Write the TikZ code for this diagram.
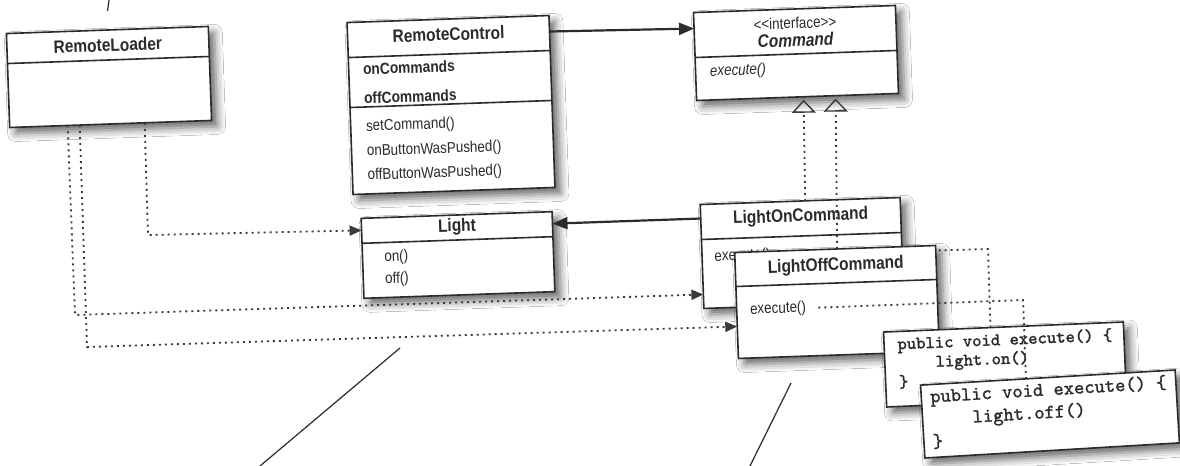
\documentclass[tikz,border=0pt]{standalone}
\usepackage{fontspec}
\newfontfamily\umlsans{Liberation Sans}[FakeStretch=0.86]
\newfontfamily\codefont{Latin Modern Mono}[FakeBold=1.3]
\usetikzlibrary{arrows.meta, shadows.blur}

\definecolor{inkgray}{HTML}{2B2B2B}
\definecolor{dotgray}{HTML}{3A3A3A}

\tikzset{
  classbox/.style={draw=inkgray, line width=0.8pt, fill=white, inner sep=0pt,
    blur shadow={shadow xshift=3pt, shadow yshift=-3pt, shadow blur radius=4pt, shadow opacity=60}},
  classline/.style={draw=inkgray, line width=0.8pt},
  clsname/.style={font=\umlsans\bfseries\fontsize{9}{10}\selectfont, text=inkgray},
  attrtext/.style={anchor=west, inner sep=1pt, font=\umlsans\bfseries\fontsize{8}{9}\selectfont, text=inkgray},
  methtext/.style={anchor=west, inner sep=1pt, font=\umlsans\fontsize{7.8}{9}\selectfont, text=inkgray},
  codetext/.style={anchor=west, inner sep=1pt, align=left, text=inkgray},
  dep/.style={draw=dotgray, line width=0.9pt, dash pattern=on 1pt off 2pt, -{Triangle[length=6pt,width=5pt]}},
  execlink/.style={draw=dotgray, line width=0.9pt, dash pattern=on 1pt off 2pt, shorten <=5pt},
  realize/.style={draw=dotgray, line width=0.9pt, dash pattern=on 1pt off 2pt,
    -{Triangle[open, length=6.5pt, width=12pt, line width=0.7pt]}},
  assoc/.style={draw=inkgray, line width=1.1pt, -{Triangle[length=7.5pt,width=6pt]}},
  note/.style={draw=inkgray, line width=0.6pt},
}

\begin{document}
\begin{tikzpicture}[x=0.5pt, y=-0.5pt]
  \useasboundingbox[fill=white] (0,0) rectangle (1180,466);

  % leader lines of the cut-off notes
  \draw[note] (109,0) -- (107.5,11);
  \draw[note] (400,348) -- (260,466);
  \draw[note] (791,383) -- (750,466);

  % RemoteLoader
  \begin{scope}[shift={(109,77)}, rotate=2, transform shape]
    \node[classbox, minimum width=101pt, minimum height=47pt] (loader) at (0,0) {};
    \draw[classline] (-101,-17) -- (101,-17);
    \node[clsname] (loadername) at (0,-32) {RemoteLoader};
    \coordinate (ld-a) at (-43,47);
    \coordinate (ld-b) at (-31,47);
    \coordinate (ld-c) at (34,47);
  \end{scope}

  % RemoteControl
  \begin{scope}[shift={(451,105)}, rotate=2, transform shape]
    \node[classbox, minimum width=101pt, minimum height=86pt] (remote) at (0,0) {};
    \draw[classline] (-101,-51) -- (101,-51);
    \draw[classline] (-101,-1) -- (101,-1);
    \node[clsname] (remotename) at (0,-71) {RemoteControl};
    \node[attrtext] (oncmds) at (-89,-39) {onCommands};
    \node[attrtext] (offcmds) at (-89,-10) {offCommands};
    \node[methtext] (setcmd) at (-88,19) {setCommand()};
    \node[methtext] (onpush) at (-88,44) {onButtonWasPushed()};
    \node[methtext] (offpush) at (-88,68) {offButtonWasPushed()};
    \coordinate (rc-out) at (101,-70);
  \end{scope}

  % Command interface
  \begin{scope}[shift={(796,53)}, rotate=2, transform shape]
    \node[classbox, minimum width=101pt, minimum height=44pt] (command) at (0,0) {};
    \draw[classline] (-101,1) -- (101,1);
    \node[methtext, anchor=center] (stereo) at (0,-30) {<\kern0pt<interface>\kern0pt>};
    \node[clsname, font=\umlsans\bfseries\itshape\fontsize{9}{10}\selectfont] (cmdname) at (0,-13) {Command};
    \node[methtext, font=\umlsans\itshape\fontsize{7.8}{9}\selectfont] (cmdexec) at (-89,16) {execute()};
    \coordinate (cmd-in) at (-101,-28);
    \coordinate (cmd-tipa) at (6,47);
    \coordinate (cmd-tipb) at (38,47);
  \end{scope}

  % Light
  \begin{scope}[shift={(458,255)}, rotate=2, transform shape]
    \node[classbox, minimum width=95.5pt, minimum height=40pt] (light) at (0,0) {};
    \draw[classline] (-95.5,-15) -- (95.5,-15);
    \node[clsname] (lightname) at (0,-28) {Light};
    \node[methtext] (lighton) at (-76,0) {on()};
    \node[methtext] (lightoff) at (-76,22) {off()};
    \coordinate (lt-west) at (-95.5,-28);
    \coordinate (lt-east) at (95.5,-28);
  \end{scope}

  % LightOnCommand
  \begin{scope}[shift={(802,253)}, rotate=2, transform shape]
    \node[classbox, minimum width=100pt, minimum height=52pt] (lon) at (0,0) {};
    \draw[classline] (-100,-17) -- (100,-17);
    \node[clsname] (lonname) at (0,-36) {LightOnCommand};
    \node[methtext] (lonexec) at (-90,1) {execute()};
    \coordinate (lon-westa) at (-100,38);
    \coordinate (lon-westt) at (-100,-38);
    \coordinate (lon-top) at (5,-52);
  \end{scope}

  \coordinate (on-corner) at (988,249);
  \coordinate (off-corner) at (1023,300);
  \coordinate (c1-in) at (990.5,328);
  \coordinate (c2-in) at (1026,379);
  \coordinate (ld-cornera) at (75,315);
  \coordinate (ld-cornerb) at (87,347);
  \coordinate (ld-cornerc) at (148,235);

  \draw[execlink] (lonexec.east) -- (on-corner) -- (c1-in);
  \draw[realize] (lon-top) -- (cmd-tipa);

  % LightOffCommand
  \begin{scope}[shift={(837,302)}, rotate=2, transform shape]
    \node[classbox, minimum width=100.5pt, minimum height=53pt] (loff) at (0,0) {};
    \draw[classline] (-100.5,-19) -- (100.5,-19);
    \node[clsname] (loffname) at (0,-36) {LightOffCommand};
    \node[methtext] (loffexec) at (-89.5,5) {execute()};
    \coordinate (loff-west) at (-100.5,21);
    \coordinate (loff-top) at (2,-53);
  \end{scope}

  \draw[realize] (loff-top) -- (cmd-tipb);
  \draw[assoc] (rc-out) -- (cmd-in);
  \draw[assoc] (lon-westt) -- (lt-east);
  \draw[dep] (ld-a) -- (ld-cornera) -- (lon-westa);
  \draw[dep] (ld-b) -- (ld-cornerb) -- (loff-west);
  \draw[dep] (ld-c) -- (ld-cornerc) -- (lt-west);

  % code of LightOnCommand.execute()
  \begin{scope}[shift={(1005,364.5)}, rotate=2.4, transform shape]
    \node[classbox, minimum width=120pt, minimum height=37.5pt] (oncode) at (0,0) {};
    \node[codetext, font=\codefont\fontsize{8.9}{9.5}\selectfont] (oncodetext) at (-109,-6)
      {public void execute() \{\\~~~~light.on()\\\}};
  \end{scope}

  \draw[execlink] (loffexec.east) -- (off-corner) -- (c2-in);

  % code of LightOffCommand.execute()
  \begin{scope}[shift={(1050,414)}, rotate=3.4, transform shape]
    \node[classbox, minimum width=127.5pt, minimum height=36.5pt] (offcode) at (0,0) {};
    \node[codetext, font=\codefont\fontsize{9.8}{11.3}\selectfont] (offcodetext) at (-121,-2)
      {public void execute() \{\\~~~~light.off()\\\}};
  \end{scope}
\end{tikzpicture}
\end{document}
